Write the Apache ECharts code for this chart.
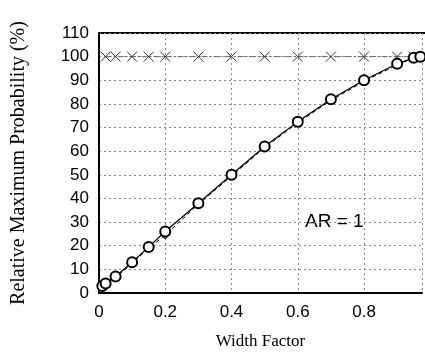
<!DOCTYPE html>
<html>
<head>
<meta charset="utf-8">
<script src="https://cdn.jsdelivr.net/npm/echarts@6/dist/echarts.min.js"></script>
<style>
  html, body { margin: 0; padding: 0; background: #fff; }
  #chart { width: 425px; height: 355px; }
</style>
</head>
<body>
<div id="chart"></div>
<script>
// width factor samples
const widthFactor = [0.01, 0.02, 0.05, 0.1, 0.15, 0.2, 0.3, 0.4, 0.5, 0.6, 0.7, 0.8, 0.9, 0.95, 0.97]
// circles, solid line
const probCircle = [3, 4, 7, 13, 19.5, 26, 38, 50, 62, 72.5, 82, 90, 97, 99.5, 100]
// second marker set, dashed line
const probDiamond = [2.5, 3.5, 6.5, 12.5, 19, 24.5, 37.5, 49.5, 61.5, 72, 81.5, 89.5, 96.5, 99.5, 100]
// reference level
const crossX = [0.02, 0.05, 0.1, 0.15, 0.2, 0.3, 0.4, 0.5, 0.6, 0.7, 0.8, 0.9, 0.95]
const crossY = [100, 100, 100, 100, 100, 100, 100, 100, 100, 100, 100, 100, 100]

const pairs = (xs, ys) => xs.map((x, i) => [x, ys[i]])

const chart = echarts.init(document.getElementById('chart'))
chart.setOption({
  animation: false,
  grid: { left: 99, top: 33, right: 0, bottom: 58 },
  xAxis: {
    type: 'value',
    min: 0,
    max: 0.975,
    interval: 0.2,
    name: 'Width Factor',
    nameLocation: 'middle',
    nameGap: 40,
    nameTextStyle: { fontFamily: 'Liberation Serif', fontSize: 17, color: '#000' },
    axisLine: { show: true, onZero: false, lineStyle: { color: '#000', width: 2 } },
    axisTick: { show: false },
    axisLabel: {
      fontFamily: 'Liberation Sans', fontSize: 17, color: '#000', margin: 11,
      formatter: v => (v > 0.95 ? '' : (v === 0 ? '0' : String(Math.round(v * 10) / 10)))
    },
    splitLine: { show: true, lineStyle: { color: '#888', type: [2, 3], width: 1 } }
  },
  yAxis: {
    type: 'value',
    min: 0,
    max: 110,
    interval: 10,
    name: 'Relative Maximum Probability (%)',
    nameLocation: 'middle',
    nameGap: 70,
    nameTextStyle: { fontFamily: 'Liberation Serif', fontSize: 20, color: '#000' },
    axisLine: { show: true, lineStyle: { color: '#000', width: 2 } },
    axisTick: { show: false },
    axisLabel: { fontFamily: 'Liberation Sans', fontSize: 17, color: '#000', margin: 10 },
    splitLine: { show: true, lineStyle: { color: '#888', type: [2, 3], width: 1 } }
  },
  graphic: [
    { type: 'line', shape: { x1: 99, y1: 33, x2: 425, y2: 33 }, style: { stroke: '#000', lineWidth: 2 } },
    { type: 'text', left: 305, top: 212, style: { text: 'AR = 1', fontFamily: 'Liberation Sans', fontSize: 19, fill: '#000' } }
  ],
  series: [
    {
      type: 'line',
      data: pairs(crossX, crossY),
      symbol: 'path://M0,0L10,10M10,0L0,10',
      symbolSize: 10,
      itemStyle: { color: 'none', borderColor: '#333', borderWidth: 1 },
      lineStyle: { color: '#666', width: 1, type: [6, 2, 2, 2] }
    },
    {
      type: 'line',
      data: pairs(widthFactor, probDiamond),
      symbol: 'diamond',
      symbolSize: 7,
      itemStyle: { color: '#fff', borderColor: '#000', borderWidth: 1.2 },
      lineStyle: { color: '#000', width: 1, type: [4, 3] }
    },
    {
      type: 'line',
      data: pairs(widthFactor, probCircle),
      symbol: 'emptyCircle',
      symbolSize: 10,
      itemStyle: { color: '#000', borderColor: '#000', borderWidth: 2 },
      lineStyle: { color: '#000', width: 1.2 }
    }
  ]
})
</script>
</body>
</html>
